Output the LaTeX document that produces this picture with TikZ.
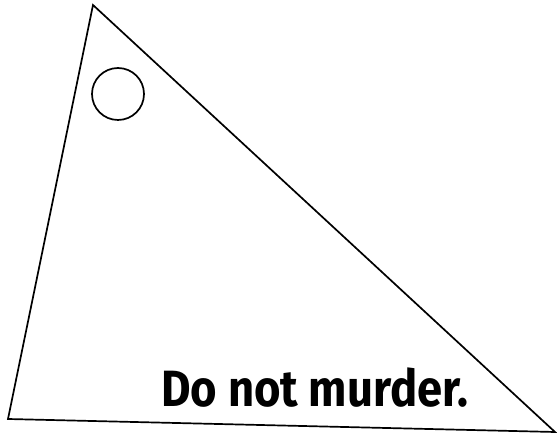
\documentclass[tikz,border=0pt]{standalone}
\usepackage{fontspec}
\usepackage{graphicx}
\setmainfont{Fira Sans}
\begin{document}
\begin{tikzpicture}[x=1pt,y=-1pt,
  edge/.style={draw=black,line width=1.7pt,line join=miter},
  label/.style={font=\fontsize{51}{60}\selectfont\bfseries,inner sep=0pt,anchor=base west}]
\useasboundingbox (0,0) rectangle (557,435);
\coordinate (top) at (93,5);
\coordinate (bl) at (8,419);
\coordinate (br) at (555,432);
\draw[edge] (top) -- (bl) -- (br) -- cycle;
\node[draw=black,line width=1.7pt,circle,minimum size=52pt,inner sep=0pt] (hole) at (118,94) {};
\node[label] (txt) at (161,407) {\scalebox{0.89}[1]{Do not murder.}};
\end{tikzpicture}
\end{document}
